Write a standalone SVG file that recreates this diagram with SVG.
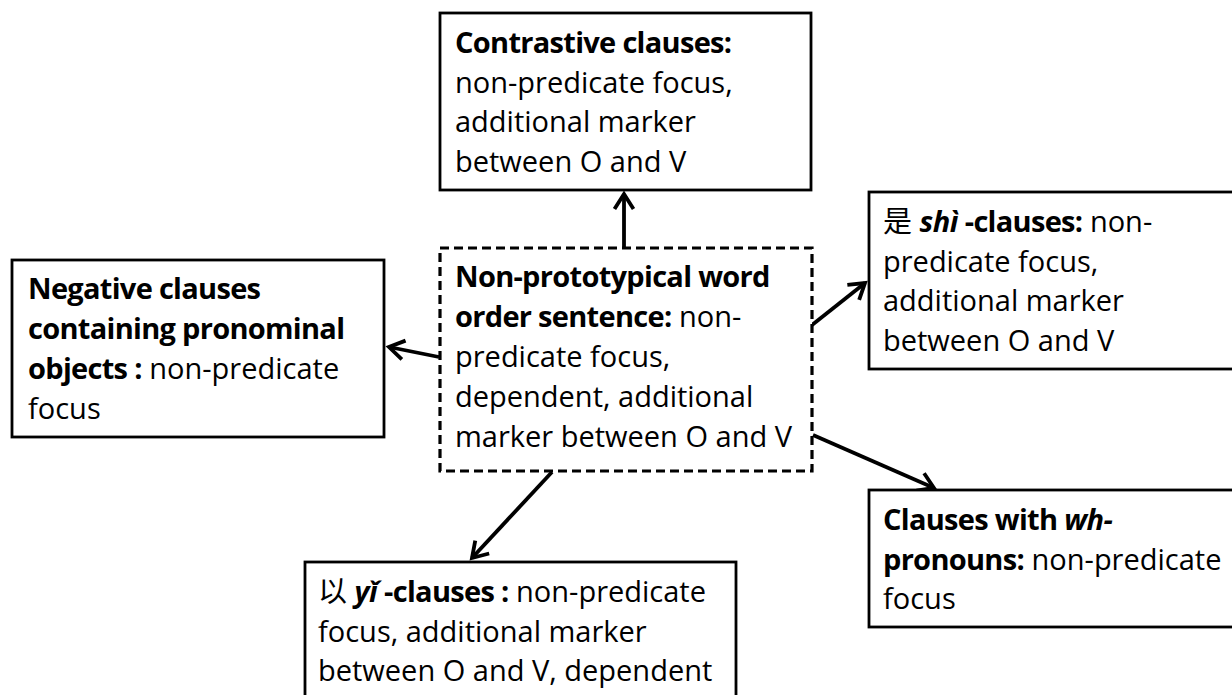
<svg xmlns="http://www.w3.org/2000/svg" width="1232" height="695" viewBox="0 0 1232 695">
<style>
text{font-family:"Open Sans","Noto Sans","Noto Sans CJK SC",sans-serif;font-size:29px;fill:#000}
.b{font-weight:bold;letter-spacing:-0.7px}
.bi{font-weight:bold;font-style:italic;letter-spacing:-0.5px}
.cjk{font-family:"Noto Sans CJK SC",sans-serif;font-weight:normal}
.box{fill:#fff;stroke:#000;stroke-width:2.8}
.dash{fill:#fff;stroke:#000;stroke-width:3.2;stroke-dasharray:9 5}
.conn{stroke:#000;stroke-width:3.8;fill:none;marker-end:url(#arr)}
</style>
<defs>
<marker id="arr" markerUnits="userSpaceOnUse" markerWidth="40" markerHeight="40" refX="0" refY="0" viewBox="-20 -20 40 40" orient="auto" overflow="visible">
<path d="M-15,-9.5 L0,0 L-15,9.5" fill="none" stroke="#000" stroke-width="3.8" stroke-linejoin="miter"/>
</marker>
</defs>

<g id="connectors">
<line class="conn" x1="624" y1="247" x2="624" y2="194"/>
<line class="conn" x1="439" y1="357" x2="389" y2="347"/>
<line class="conn" x1="812" y1="325" x2="865" y2="283"/>
<line class="conn" x1="813" y1="435" x2="934" y2="488"/>
<line class="conn" x1="552" y1="472" x2="472" y2="558"/>
</g>

<g id="node-contrastive">
<rect class="box" x="440" y="13" width="371" height="177"/>
<text x="455" y="53"><tspan class="b">Contrastive clauses:</tspan></text>
<text x="455" y="92.7">non-predicate focus,</text>
<text x="455" y="132.4">additional marker</text>
<text x="455" y="172">between O and V</text>
</g>

<g id="node-center">
<rect class="dash" x="440" y="248" width="372" height="223"/>
<text x="455" y="287"><tspan class="b">Non-prototypical word</tspan></text>
<text x="455" y="327"><tspan class="b">order sentence:</tspan> non-</text>
<text x="455" y="367">predicate focus,</text>
<text x="455" y="407">dependent, additional</text>
<text x="455" y="447">marker between O and V</text>
</g>

<g id="node-negative">
<rect class="box" x="12" y="260" width="372" height="177"/>
<text x="28" y="299"><tspan class="b">Negative clauses</tspan></text>
<text x="28" y="339"><tspan class="b">containing pronominal</tspan></text>
<text x="28" y="379"><tspan class="b">objects :</tspan> non-predicate</text>
<text x="28" y="419">focus</text>
</g>

<g id="node-shi">
<rect class="box" x="869" y="192" width="380" height="177"/>
<text x="883" y="232"><tspan class="cjk">是</tspan> <tspan class="bi">shì</tspan><tspan class="b"> -clauses:</tspan> non-</text>
<text x="883" y="271.7">predicate focus,</text>
<text x="883" y="311.4">additional marker</text>
<text x="883" y="351">between O and V</text>
</g>

<g id="node-wh">
<rect class="box" x="869" y="490" width="380" height="137"/>
<text x="883" y="530"><tspan class="b">Clauses with </tspan><tspan class="bi">wh-</tspan></text>
<text x="883" y="570"><tspan class="b">pronouns:</tspan> non-predicate</text>
<text x="883" y="609">focus</text>
</g>

<g id="node-yi">
<rect class="box" x="305" y="562" width="431" height="150"/>
<text x="318" y="602"><tspan class="cjk">以</tspan> <tspan class="bi">yǐ</tspan><tspan class="b"> -clauses :</tspan> non-predicate</text>
<text x="318" y="642">focus, additional marker</text>
<text x="318" y="681">between O and V, dependent</text>
</g>
</svg>
